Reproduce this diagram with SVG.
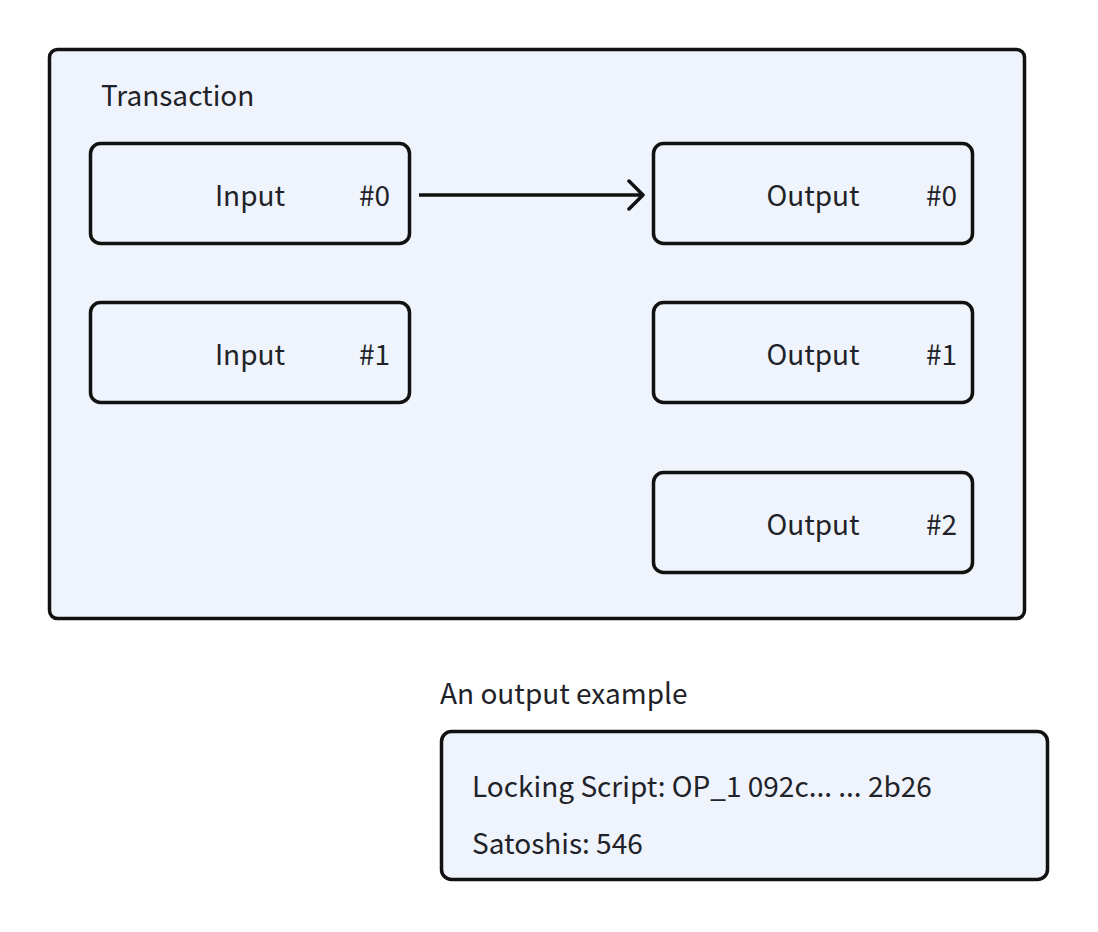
<svg xmlns="http://www.w3.org/2000/svg" width="1098" height="932" viewBox="0 0 1098 932">
<defs>
<style>
.box{fill:#eef3fc;stroke:#111;stroke-width:3.5}
.t{font-family:"Noto Sans CJK SC","Noto Sans",sans-serif;font-size:28px;fill:#1f2329}
.conn{stroke:#111;stroke-width:3.5;fill:none}
</style>
<marker id="arr" markerWidth="20" markerHeight="34" refX="16" refY="17" orient="auto" markerUnits="userSpaceOnUse">
<path d="M2,3 L16,17 L2,31" fill="none" stroke="#111" stroke-width="3.5" stroke-linecap="round" stroke-linejoin="round"/>
</marker>
</defs>
<rect width="1098" height="932" fill="#fff"/>
<g id="transaction">
<rect class="box" x="49.5" y="49.5" width="975" height="569" rx="8"/>
<text class="t" x="101" y="106">Transaction</text>
</g>
<g id="input0">
<rect class="box" x="90.5" y="143.5" width="319" height="100" rx="10"/>
<text class="t" x="250" y="206" text-anchor="middle">Input</text>
<text class="t" x="359" y="206">#0</text>
</g>
<g id="input1">
<rect class="box" x="90.5" y="302.5" width="319" height="100" rx="10"/>
<text class="t" x="250" y="365" text-anchor="middle">Input</text>
<text class="t" x="359" y="365">#1</text>
</g>
<g id="output0">
<rect class="box" x="653.5" y="143.5" width="319" height="100" rx="10"/>
<text class="t" x="813" y="206" text-anchor="middle">Output</text>
<text class="t" x="926" y="206">#0</text>
</g>
<g id="output1">
<rect class="box" x="653.5" y="302.5" width="319" height="100" rx="10"/>
<text class="t" x="813" y="365" text-anchor="middle">Output</text>
<text class="t" x="926" y="365">#1</text>
</g>
<g id="output2">
<rect class="box" x="653.5" y="472.5" width="319" height="100" rx="10"/>
<text class="t" x="813" y="535" text-anchor="middle">Output</text>
<text class="t" x="926" y="535">#2</text>
</g>
<g id="example">
<text class="t" x="440" y="704">An output example</text>
<rect class="box" x="441.5" y="731.5" width="606" height="148" rx="10"/>
<text class="t" x="472" y="797">Locking Script: OP_1 092c... ... 2b26</text>
<text class="t" x="472" y="854">Satoshis: 546</text>
</g>
<g id="connectors">
<path class="conn" d="M419,195 H643" marker-end="url(#arr)"/>
</g>
</svg>
